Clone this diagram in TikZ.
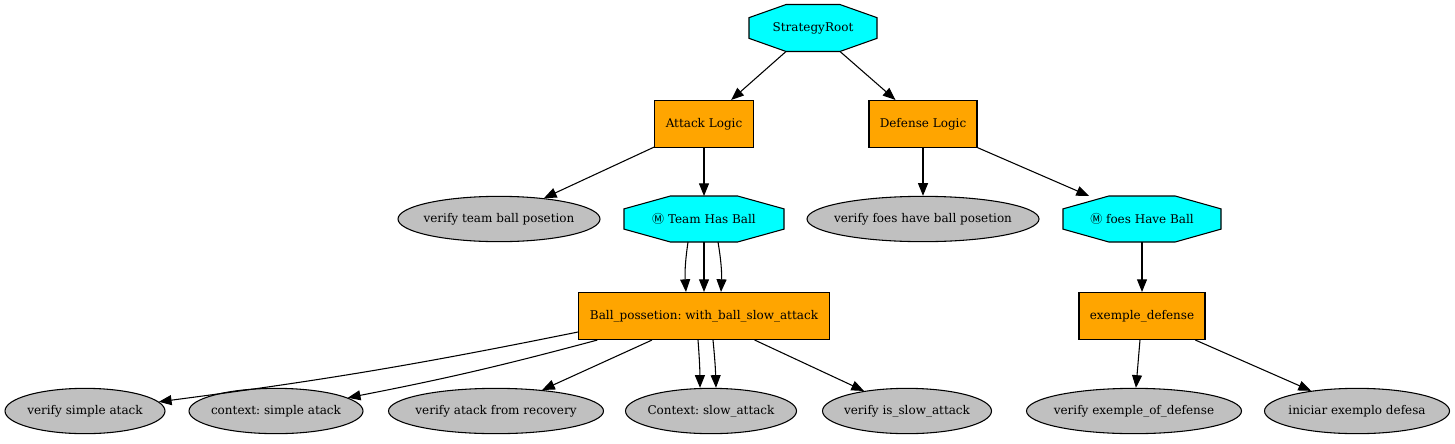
\documentclass[tikz,border=0pt]{standalone}
\usepackage{fontspec}
\setmainfont{DejaVu Serif}
\newfontfamily\symfont{Noto Sans CJK SC}
\usetikzlibrary{arrows.meta,shapes.geometric,calc}
\pgfdeclarelayer{background}
\pgfsetlayers{background,main}
\definecolor{gvorange}{HTML}{FFA500}
\definecolor{gvcyan}{HTML}{00FFFF}
\definecolor{gvgray}{HTML}{C0C0C0}
\newcommand\octpath[1]{%
  \filldraw[fill=gvcyan,draw=black,line width=0.8pt,line join=miter]
    ($(#1.north west)!0.29!(#1.north east)$) --
    ($(#1.north west)!0.71!(#1.north east)$) --
    ($(#1.north east)!0.28!(#1.south east)$) --
    ($(#1.north east)!0.72!(#1.south east)$) --
    ($(#1.south east)!0.29!(#1.south west)$) --
    ($(#1.south east)!0.71!(#1.south west)$) --
    ($(#1.south west)!0.28!(#1.north west)$) --
    ($(#1.south west)!0.72!(#1.north west)$) -- cycle;}
\tikzset{
  every node/.style={font=\fontsize{9}{11}\selectfont\frenchspacing},
  boxnode/.style={rectangle,draw,line width=0.8pt,fill=gvorange,minimum height=35.25pt,inner sep=0pt},
  ellnode/.style={ellipse,draw,line width=0.8pt,fill=gvgray,minimum height=34pt,inner ysep=0pt,inner xsep=-20pt},
  octnode/.style={rectangle,draw=none,minimum height=34.5pt,inner sep=0pt,outer sep=0pt},
  edge/.style={line width=0.8pt,-{Triangle[length=9.5pt,width=7.5pt]}},
}
\begin{document}
\begin{tikzpicture}[x=0.75pt,y=-0.75pt]
\useasboundingbox (0,0) rectangle (1455,443);
% nodes
\node[octnode,minimum width=96pt,minimum height=35.25pt] (root) at (813,28) {StrategyRoot};
\node[boxnode,minimum width=74.25pt] (attack) at (704,124) {Attack Logic};
\node[boxnode,minimum width=81pt] (defense) at (923,124) {Defense Logic};
\node[ellnode,minimum width=151.5pt] (vteam) at (499,219) {verify team ball posetion};
\node[octnode,minimum width=120pt] (team) at (704,219) {{\symfont Ⓜ} Team Has Ball};
\node[ellnode,minimum width=174pt] (vfoes) at (923,219) {verify foes have ball posetion};
\node[octnode,minimum width=118.5pt] (foes) at (1142,219) {{\symfont Ⓜ} foes Have Ball};
\node[boxnode,minimum width=188.25pt] (ball) at (704,316) {Ball\_possetion: with\_ball\_slow\_attack};
\node[boxnode,minimum width=94.5pt] (exdef) at (1142,316) {exemple\_defense};
\node[ellnode,minimum width=120pt] (vsimple) at (85,411) {verify simple atack};
\node[ellnode,minimum width=130.5pt] (csimple) at (276,411) {context: simple atack};
\node[ellnode,minimum width=161.25pt] (vrecov) at (496,411) {verify atack from recovery};
\node[ellnode,minimum width=128.25pt] (cslow) at (711,411) {Context: slow\_attack};
\node[ellnode,minimum width=126.75pt] (vslow) at (907,411) {verify is\_slow\_attack};
\node[ellnode,minimum width=161.25pt] (vexdef) at (1134,411) {verify exemple\_of\_defense};
\node[ellnode,minimum width=138.75pt] (inic) at (1357,411) {iniciar exemplo defesa};
\begin{pgfonlayer}{background}
\octpath{root}
\octpath{team}
\octpath{foes}
\end{pgfonlayer}
% edges
\draw[edge] ([xshift=-20.25pt]root.south) -- (attack);
\draw[edge] ([xshift=20.25pt]root.south) -- (defense);
\draw[edge] (attack) -- (vteam);
\draw[edge] (attack) -- (team);
\draw[edge] (defense) -- (vfoes);
\draw[edge] (defense) -- (foes);
\draw[edge] ([xshift=-12pt]team.south) to[bend right=6] ([xshift=-13.5pt]ball.north);
\draw[edge] (team.south) -- (ball.north);
\draw[edge] ([xshift=10.5pt]team.south) to[bend left=6] ([xshift=12.75pt]ball.north);
\draw[edge] ([yshift=-12pt]ball.west) to[bend left=2] (vsimple);
\draw[edge] ([xshift=-80pt]ball.south) to[bend left=2] (csimple);
\draw[edge] ([xshift=-39pt]ball.south) -- (vrecov);
\draw[edge] ([xshift=-4.5pt]ball.south) to[bend left=2] ([xshift=-8.25pt]cslow.north);
\draw[edge] ([xshift=6.75pt]ball.south) to[bend left=2] ([xshift=3.75pt]cslow.north);
\draw[edge] ([xshift=38pt]ball.south) -- (vslow);
\draw[edge] (foes) -- (exdef);
\draw[edge] (exdef) -- (vexdef);
\draw[edge] ([xshift=40pt]exdef.south) -- (inic);
\end{tikzpicture}
\end{document}
